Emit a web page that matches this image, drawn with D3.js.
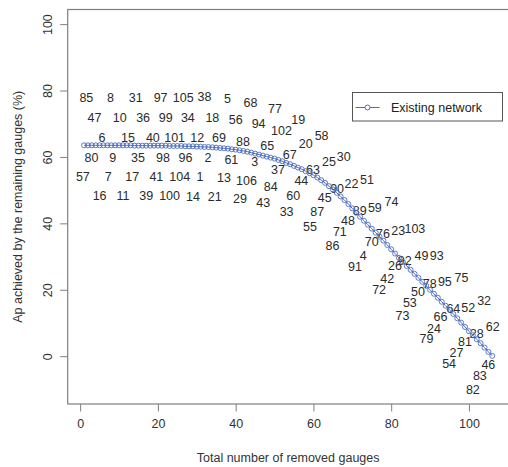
<!DOCTYPE html>
<meta charset="utf-8" />
<style>
  body {
    margin: 0;
    background: #fff;
  }
  svg text {
    font-family: "Liberation Sans", Arial, sans-serif;
  }
</style>

<body>
  <div id="grafico"></div>
  <script src="https://cdn.jsdelivr.net/npm/d3@7/dist/d3.min.js"></script>
  <script>
    // curva da rede existente: Ap (%) para cada numero de estacoes removidas
    var removidas = d3.range(1, 107);
    var apRede = [
      63.5, 63.5, 63.5, 63.5, 63.5, 63.5, 63.5, 63.5, 63.5, 63.5,
      63.5, 63.5, 63.5, 63.4, 63.4, 63.4, 63.4, 63.4, 63.4, 63.4,
      63.4, 63.4, 63.3, 63.3, 63.3, 63.3, 63.2, 63.2, 63.2, 63.1,
      63.1, 63.0, 63.0, 62.9, 62.8, 62.7, 62.6, 62.5, 62.3, 62.2,
      62.0, 61.8, 61.6, 61.3, 61.0, 60.7, 60.4, 60.1, 59.8, 59.5,
      59.1, 58.7, 58.2, 57.8, 57.3, 56.8, 56.3, 55.7, 55.1, 54.5,
      53.8, 53.0, 52.2, 51.2, 50.2, 49.2, 48.1, 47.0, 45.8, 44.5,
      43.2, 42.0, 40.8, 39.6, 38.4, 37.2, 36.0, 34.8, 33.5, 32.2,
      30.9, 29.6, 28.4, 27.2, 26.0, 24.8, 23.6, 22.4, 21.2, 20.0,
      18.8, 17.6, 16.4, 15.2, 14.0, 12.7, 11.4, 10.1, 8.8, 7.5,
      6.3, 5.1, 3.9, 2.6, 1.3, 0.1
    ];

    // rotulos das estacoes (id 1..106) e suas posicoes no grafico
    var estacoes = d3.range(1, 107);
    var estX = [
      30.8, 32.9, 44.9, 72.8, 37.9, 5.6, 7.2, 7.8, 8.4, 10.2,
      11.0, 30.1, 37.0, 29.0, 12.3, 5.0, 13.4, 34.0, 56.1, 58.0,
      34.6, 69.8, 81.8, 91.0, 64.0, 81.0, 96.8, 102.0, 41.1, 67.8,
      14.3, 103.9, 53.1, 27.7, 14.9, 16.2, 50.9, 32.0, 17.0, 18.7,
      19.6, 79.0, 47.1, 56.9, 62.9, 105.0, 3.7, 68.9, 87.8, 86.9,
      73.8, 99.8, 84.8, 94.9, 59.1, 40.0, 0.7, 62.1, 75.8, 54.8,
      38.9, 106.1, 59.9, 96.0, 48.1, 92.7, 53.9, 43.8, 35.7, 75.0,
      66.8, 76.9, 82.9, 80.1, 98.1, 77.9, 50.1, 89.9, 89.1, 2.9,
      99.0, 101.0, 102.8, 49.0, 1.6, 64.9, 61.0, 41.9, 71.9, 66.1,
      70.7, 83.5, 91.7, 45.9, 93.8, 27.1, 20.7, 21.3, 22.0, 23.0,
      24.3, 51.8, 86.1, 25.6, 26.5, 42.8
    ];
    var estY = [
      54.0, 59.9, 58.5, 30.4, 77.6, 65.9, 54.0, 78.0, 59.9, 71.9,
      48.5, 65.9, 53.8, 48.2, 65.9, 48.5, 54.0, 71.9, 71.4, 64.1,
      48.2, 52.0, 37.7, 8.3, 58.5, 27.4, 1.0, 6.8, 47.5, 60.0,
      78.0, 16.7, 43.5, 71.9, 59.9, 71.9, 56.2, 78.1, 48.5, 65.9,
      54.0, 23.4, 46.2, 53.0, 47.8, -2.4, 71.9, 41.0, 30.4, 19.4,
      53.2, 14.7, 16.1, -2.2, 39.2, 71.4, 54.0, 66.4, 44.8, 48.5,
      59.3, 8.8, 56.2, 14.4, 63.3, 11.8, 60.8, 76.3, 65.9, 34.4,
      37.4, 20.1, 12.3, 46.5, 23.7, 37.0, 74.6, 21.9, 5.3, 59.9,
      4.3, -10.0, -5.7, 51.2, 78.0, 33.4, 43.5, 64.8, 44.0, 50.5,
      26.9, 28.9, 30.4, 70.1, 22.4, 59.9, 78.0, 59.9, 71.9, 48.5,
      65.9, 67.9, 38.5, 54.0, 78.0, 53.0
    ];

    var ticksX = [0, 20, 40, 60, 80, 100];
    var ticksY = [0, 20, 40, 60, 80, 100];

    var largura = 508;
    var altura = 467;
    var esq = 67.7, dir = 508.6, topo = 9.5, base = 404;
    var corLinha = "#4d6cc0";
    var corCaixa = "#7f7f7f";
    var corTexto = "#333";

    var svg = d3
      .select("#grafico")
      .append("svg")
      .attr("width", largura)
      .attr("height", altura);

    var x = d3.scaleLinear().domain([-3.2, 110.2]).range([esq, dir]);
    var y = d3.scaleLinear().domain([-14.4, 104.4]).range([base, topo]);

    // eixo x
    var eixoX = svg
      .append("g")
      .attr("transform", "translate(0," + base + ")")
      .call(d3.axisBottom(x).tickValues(ticksX).tickSize(7.5).tickPadding(8));
    eixoX.select(".domain").remove();

    // eixo y
    var eixoY = svg
      .append("g")
      .attr("transform", "translate(" + esq + ",0)")
      .call(d3.axisLeft(y).tickValues(ticksY).tickSize(7.5).tickPadding(0));
    eixoY.select(".domain").remove();
    eixoY
      .selectAll(".tick text")
      .attr("transform", "translate(-16,0) rotate(-90)")
      .attr("x", 0)
      .attr("dy", 0)
      .attr("text-anchor", "middle");

    svg.selectAll(".tick line").attr("stroke", corCaixa);
    svg
      .selectAll(".tick text")
      .attr("fill", corTexto)
      .attr("font-size", "12.5px")
      .style("font-family", "'Liberation Sans', Arial, sans-serif");

    // caixa do grafico
    svg
      .append("rect")
      .attr("x", esq)
      .attr("y", topo)
      .attr("width", dir - esq)
      .attr("height", base - topo)
      .attr("fill", "none")
      .attr("stroke", corCaixa)
      .attr("stroke-width", 1.2);

    // rotulos das estacoes
    svg
      .append("g")
      .selectAll("text")
      .data(estacoes)
      .enter()
      .append("text")
      .attr("x", function (d, i) {
        return x(estX[i]);
      })
      .attr("y", function (d, i) {
        return y(estY[i]);
      })
      .attr("dy", "0.36em")
      .attr("text-anchor", "middle")
      .attr("font-size", "12.5px")
      .attr("fill", "#2b2b2b")
      .text(function (d) {
        return d;
      });

    // linha da rede existente
    var linha = d3
      .line()
      .x(function (d, i) {
        return x(d);
      })
      .y(function (d, i) {
        return y(apRede[i]);
      });

    svg
      .append("path")
      .datum(removidas)
      .attr("d", linha)
      .attr("fill", "none")
      .attr("stroke", corLinha)
      .attr("stroke-width", 1);

    svg
      .append("g")
      .selectAll("circle")
      .data(removidas)
      .enter()
      .append("circle")
      .attr("cx", function (d) {
        return x(d);
      })
      .attr("cy", function (d, i) {
        return y(apRede[i]);
      })
      .attr("r", 2.5)
      .attr("fill", "none")
      .attr("stroke", corLinha)
      .attr("stroke-width", 0.9);

    // legenda
    var leg = svg.append("g").attr("transform", "translate(352.5,92.5)");
    leg
      .append("rect")
      .attr("width", 150)
      .attr("height", 28.5)
      .attr("fill", "#fff")
      .attr("stroke", "#555")
      .attr("stroke-width", 1);
    leg
      .append("line")
      .attr("x1", 3)
      .attr("x2", 27)
      .attr("y1", 15)
      .attr("y2", 15)
      .attr("stroke", corLinha);
    leg
      .append("circle")
      .attr("cx", 15)
      .attr("cy", 15)
      .attr("r", 2.5)
      .attr("fill", "#fff")
      .attr("stroke", corLinha);
    leg
      .append("text")
      .attr("x", 38.5)
      .attr("y", 19.5)
      .attr("font-size", "12.5px")
      .attr("fill", "#222")
      .text("Existing network");

    // titulos dos eixos
    svg
      .append("text")
      .attr("x", (esq + dir) / 2)
      .attr("y", 462)
      .attr("text-anchor", "middle")
      .attr("font-size", "12.5px")
      .attr("fill", corTexto)
      .text("Total number of removed gauges");

    svg
      .append("text")
      .attr("transform", "translate(22," + (topo + base) / 2 + ") rotate(-90)")
      .attr("text-anchor", "middle")
      .attr("font-size", "12.5px")
      .attr("fill", corTexto)
      .text("Ap achieved by the remaining gauges (%)");
  </script>
</body>
